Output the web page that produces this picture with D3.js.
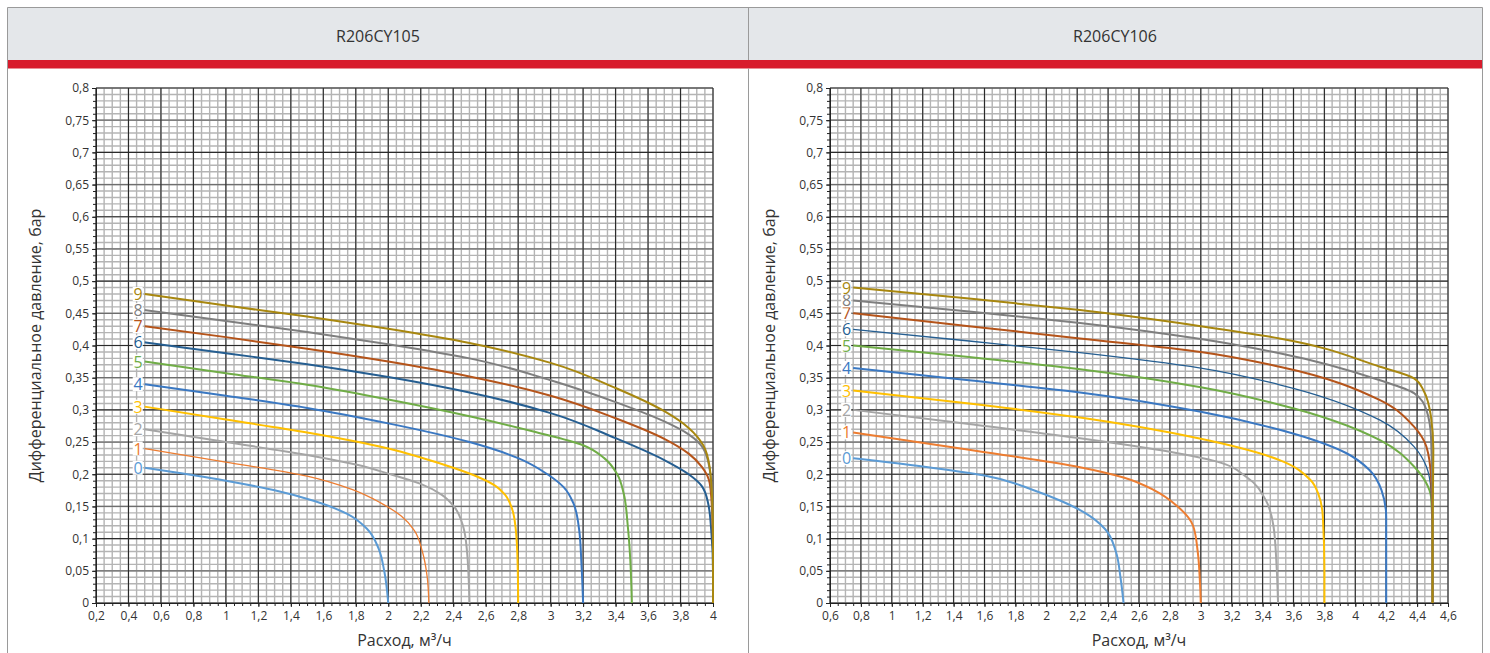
<!DOCTYPE html>
<html>
<head>
<meta charset="utf-8">
<script src="https://cdn.jsdelivr.net/npm/d3@7"></script>
<style>
  body { margin: 0; background: #fff; }
  text { font-family: "Open Sans", "Noto Sans", sans-serif; fill: #333; }
</style>
</head>
<body>
<svg id="chart" width="1490" height="653"></svg>
<script>
// model names shown in the header
var titles = ['R206CY105', 'R206CY106'];
var curveLabels = ['0', '1', '2', '3', '4', '5', '6', '7', '8', '9'];
var curveColors = ['#5b9bd5', '#ed7d31', '#a5a5a5', '#ffc000', '#3a78c2',
                   '#70ad47', '#255e91', '#b5541a', '#7f7f7f', '#a8870f'];

var yTicks = d3.range(0, 0.8001, 0.05);
var xTicksLeft = d3.range(0.2, 4.0001, 0.2);
var xTicksRight = d3.range(0.6, 4.6001, 0.2);

// flow (m3/h), differential pressure (bar) - R206CY105
var leftCurves = [
  [[0.5,0.21],[1.0,0.19],[1.3,0.175],[1.55,0.158],[1.75,0.138],[1.87,0.115],[1.94,0.085],[1.975,0.05],[2.0,0]],
  [[0.5,0.24],[1.0,0.219],[1.5,0.197],[1.78,0.176],[1.95,0.156],[2.08,0.135],[2.16,0.113],[2.21,0.08],[2.24,0.04],[2.25,0]],
  [[0.5,0.27],[1.0,0.25],[1.5,0.23],[1.8,0.215],[2.0,0.201],[2.2,0.185],[2.33,0.168],[2.41,0.148],[2.46,0.12],[2.485,0.08],[2.5,0]],
  [[0.5,0.305],[1.0,0.285],[1.5,0.265],[2.0,0.24],[2.2,0.226],[2.4,0.21],[2.56,0.195],[2.66,0.182],[2.72,0.168],[2.76,0.148],[2.785,0.115],[2.797,0.06],[2.8,0]],
  [[0.5,0.34],[1.0,0.322],[1.5,0.303],[2.0,0.279],[2.5,0.25],[2.8,0.225],[2.98,0.2],[3.08,0.18],[3.14,0.155],[3.175,0.115],[3.19,0.06],[3.2,0]],
  [[0.5,0.375],[1.0,0.357],[1.5,0.339],[2.0,0.316],[2.5,0.29],[2.9,0.266],[3.2,0.245],[3.33,0.225],[3.41,0.2],[3.45,0.17],[3.475,0.12],[3.49,0.07],[3.5,0]],
  [[0.5,0.405],[1.0,0.388],[1.5,0.371],[2.0,0.351],[2.5,0.327],[3.0,0.295],[3.4,0.256],[3.7,0.222],[3.85,0.2],[3.93,0.182],[3.97,0.155],[3.99,0.11],[4.0,0.05],[4.0,0]],
  [[0.5,0.43],[1.0,0.413],[1.5,0.395],[2.0,0.375],[2.5,0.352],[3.0,0.322],[3.4,0.287],[3.7,0.255],[3.85,0.232],[3.93,0.212],[3.98,0.186],[3.995,0.14],[4.0,0.08],[4.0,0]],
  [[0.5,0.455],[1.0,0.438],[1.5,0.421],[2.0,0.402],[2.5,0.38],[3.0,0.346],[3.4,0.312],[3.7,0.282],[3.85,0.262],[3.94,0.24],[3.98,0.207],[3.995,0.16],[4.0,0.1],[4.0,0]],
  [[0.5,0.48],[1.0,0.462],[1.5,0.445],[2.0,0.426],[2.5,0.404],[3.0,0.373],[3.4,0.334],[3.7,0.298],[3.85,0.272],[3.94,0.245],[3.98,0.21],[3.995,0.16],[4.0,0.1],[4.0,0]]
];

// R206CY106
var rightCurves = [
  [[0.75,0.225],[1.2,0.212],[1.6,0.198],[1.91,0.176],[2.1,0.158],[2.25,0.14],[2.38,0.115],[2.45,0.08],[2.48,0.04],[2.5,0]],
  [[0.75,0.265],[1.5,0.238],[2.218,0.211],[2.5,0.195],[2.7,0.175],[2.85,0.15],[2.95,0.12],[2.98,0.08],[2.995,0.03],[3.0,0]],
  [[0.75,0.3],[1.5,0.278],[2.218,0.256],[2.8,0.235],[3.1,0.22],[3.3,0.195],[3.42,0.16],[3.47,0.12],[3.49,0.06],[3.5,0]],
  [[0.75,0.33],[1.5,0.31],[2.218,0.288],[3.0,0.255],[3.51,0.222],[3.71,0.191],[3.76,0.17],[3.79,0.134],[3.8,0.05],[3.8,0]],
  [[0.75,0.365],[1.5,0.346],[2.218,0.327],[3.0,0.297],[3.51,0.269],[3.94,0.233],[4.09,0.207],[4.17,0.175],[4.2,0.134],[4.2,0.05],[4.2,0]],
  [[0.75,0.4],[1.5,0.382],[2.218,0.363],[3.0,0.335],[3.51,0.308],[4.16,0.253],[4.38,0.212],[4.46,0.186],[4.49,0.165],[4.5,0.1],[4.5,0]],
  [[0.75,0.425],[1.5,0.407],[2.218,0.389],[3.0,0.365],[3.51,0.339],[4.16,0.284],[4.38,0.243],[4.46,0.212],[4.49,0.175],[4.5,0.1],[4.5,0]],
  [[0.75,0.45],[1.5,0.43],[2.218,0.411],[3.0,0.39],[3.51,0.367],[4.16,0.315],[4.38,0.274],[4.46,0.243],[4.49,0.196],[4.5,0.1],[4.5,0]],
  [[0.75,0.47],[1.5,0.453],[2.218,0.435],[3.0,0.41],[3.51,0.388],[4.16,0.346],[4.38,0.326],[4.46,0.3],[4.49,0.258],[4.5,0.15],[4.5,0]],
  [[0.75,0.49],[1.5,0.473],[2.218,0.455],[3.0,0.43],[3.51,0.411],[4.16,0.367],[4.38,0.349],[4.44,0.331],[4.49,0.289],[4.505,0.238],[4.5,0.1],[4.5,0]]
];

var svg = d3.select('#chart');
var comma = v => d3.format('~g')(+v.toFixed(3)).replace('.', ',');

// header panels
svg.append('rect').attr('x', 7.5).attr('y', 7.5).attr('width', 1475).attr('height', 53)
    .attr('fill', '#e4e7ea');
svg.append('rect').attr('x', 7.5).attr('y', 60).attr('width', 1475).attr('height', 8.5)
    .attr('fill', '#d81b2c');
svg.append('path').attr('d', 'M7.5,653V7.5H1482.5V653 M748.5,7.5V60 M748.5,68.5V653')
    .attr('fill', 'none').attr('stroke', '#9a9a9a');

function drawChart(opts) {
    var x = d3.scaleLinear().domain(opts.xDomain).range([opts.x0, opts.x1]);
    var y = d3.scaleLinear().domain([0, 0.8]).range([603, 88]);
    var g = svg.append('g');

    g.append('text').attr('x', opts.cx).attr('y', 42).attr('text-anchor', 'middle')
        .style('font-size', '16px').text(opts.title);

    // grid: fine lines first, heavier lines on top
    var xMinor = d3.range(opts.xDomain[0], opts.xDomain[1] + 1e-6, 0.05);
    var yMinor = d3.range(0, 0.8001, 0.01);
    var grid = g.append('g');
    grid.selectAll('.vx').data(xMinor).enter().append('line')
        .attr('x1', d => x(d)).attr('x2', d => x(d)).attr('y1', y(0)).attr('y2', y(0.8))
        .attr('stroke', '#b4b4b4').attr('stroke-width', 1.4);
    grid.selectAll('.hy').data(yMinor).enter().append('line')
        .attr('y1', d => y(d)).attr('y2', d => y(d)).attr('x1', x.range()[0]).attr('x2', x.range()[1])
        .attr('stroke', '#b4b4b4').attr('stroke-width', 1.4);
    grid.selectAll('.hmaj').data(yTicks).enter().append('line')
        .attr('y1', d => y(d)).attr('y2', d => y(d)).attr('x1', x.range()[0]).attr('x2', x.range()[1])
        .attr('stroke', (d, i) => i % 2 ? '#6e6e6e' : '#2a2a2a').attr('stroke-width', 1.2);
    grid.selectAll('.vmaj').data(opts.xTicks).enter().append('line')
        .attr('x1', d => x(d)).attr('x2', d => x(d)).attr('y1', y(0)).attr('y2', y(0.8))
        .attr('stroke', '#2a2a2a').attr('stroke-width', 1.1);

    // axes
    g.append('g').attr('transform', 'translate(' + opts.x0 + ',0)')
        .call(d3.axisLeft(y).tickValues(yTicks).tickFormat(comma).tickSize(4).tickPadding(3));
    g.append('g').attr('transform', 'translate(' + opts.x0 + ',0)')
        .call(d3.axisLeft(y).tickValues(yMinor).tickFormat('').tickSize(3))
        .select('.domain').remove();
    g.append('g').attr('transform', 'translate(0,603)')
        .call(d3.axisBottom(x).tickValues(opts.xTicks).tickFormat(comma).tickSize(4).tickPadding(4));
    g.append('g').attr('transform', 'translate(0,603)')
        .call(d3.axisBottom(x).tickValues(xMinor).tickFormat('').tickSize(3))
        .select('.domain').remove();
    g.selectAll('.tick text').style('font-size', '12px').attr('fill', '#333');
    g.selectAll('.domain, .tick line').attr('stroke', '#222');

    // axis titles
    g.append('text').attr('transform', 'translate(' + (opts.x0 - 55) + ',' + y(0.4) + ') rotate(-90)')
        .attr('text-anchor', 'middle').style('font-size', '16px')
        .text('Дифференциальное давление, бар');
    g.append('text').attr('x', (opts.x0 + opts.x1) / 2).attr('y', 646).attr('text-anchor', 'middle')
        .style('font-size', '16px').text('Расход, м³/ч');

    // curves: pressure falls steadily with flow, so interpolate monotone in y
    var line = d3.line().x(d => x(d[0])).y(d => y(d[1])).curve(d3.curveMonotoneY);
    g.selectAll('.curve').data(opts.curves).enter().append('path')
        .attr('d', line).attr('fill', 'none')
        .attr('stroke', (d, i) => curveColors[i])
        .attr('stroke-width', (d, i) => opts.thin.includes(i) ? 1.3 : 2);

    // curve numbers at the start of each line
    var lab = g.selectAll('.lab').data(opts.curves).enter().append('g');
    lab.append('rect')
        .attr('x', d => x(d[0][0]) - 12).attr('y', d => y(d[0][1]) - 7)
        .attr('width', 10).attr('height', 14).attr('fill', '#fff');
    lab.append('text')
        .attr('x', d => x(d[0][0]) - 2).attr('y', d => y(d[0][1]) + 6)
        .attr('text-anchor', 'end').style('font-size', '16px')
        .style('fill', (d, i) => curveColors[i])
        .text((d, i) => curveLabels[i]);
}

drawChart({ title: titles[0], cx: 378, xDomain: [0.2, 4], x0: 96, x1: 713,
            xTicks: xTicksLeft, curves: leftCurves, thin: [1] });
drawChart({ title: titles[1], cx: 1115, xDomain: [0.6, 4.6], x0: 830, x1: 1448,
            xTicks: xTicksRight, curves: rightCurves, thin: [6] });
</script>
</body>
</html>
